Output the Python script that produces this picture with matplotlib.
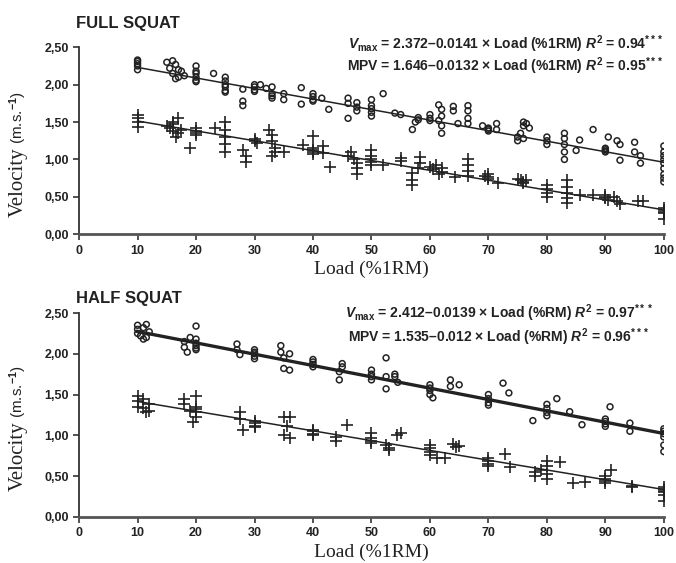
import matplotlib
matplotlib.use("Agg")
import matplotlib.pyplot as plt
from matplotlib.ticker import FuncFormatter

# --- FULL SQUAT: Vmax (circles) ---
full_vmax_load = [10, 10, 10, 10, 10,
                  15, 15.5, 16, 16, 16.5, 16.5, 17, 17, 17.5, 18,
                  20, 20, 20, 20, 20, 20, 23,
                  25, 25, 25, 25, 25, 25, 28, 28, 28,
                  30, 30, 30, 30, 31, 32, 33, 33, 33, 33, 35, 35,
                  38, 38, 40, 40, 40, 40, 41.5, 42.7,
                  46, 46, 46, 47.5, 47.5, 47.5, 50, 50, 50, 50, 50, 52, 54, 55,
                  57, 57.5, 58, 58, 60, 60, 60, 61.5, 62, 62, 62, 62, 61.5,
                  64, 64, 64.8, 66.5, 66.5, 66.5, 66.5, 69, 70, 70, 70, 71.4, 71.4,
                  75, 75, 75.5, 76, 76, 76.5, 76, 77, 80, 80, 80,
                  83, 83, 83, 83, 83, 85, 85.6, 87.9, 90, 90, 90, 90, 90.5,
                  92, 92.5, 92.5, 95, 95, 96, 96,
                  100, 100, 100, 100, 100, 100, 100, 100, 100]
full_vmax_vel = [2.20, 2.25, 2.28, 2.31, 2.33,
                 2.30, 2.22, 2.32, 2.15, 2.27, 2.08, 2.10, 2.20, 2.18, 2.12,
                 2.25, 2.15, 2.10, 2.06, 2.04, 2.18, 2.15,
                 2.10, 2.05, 2.00, 1.97, 1.92, 1.90, 1.78, 1.72, 1.94,
                 2.00, 1.97, 1.93, 1.91, 2.00, 1.95, 1.97, 1.88, 1.82, 1.85, 1.88, 1.80,
                 1.96, 1.74, 1.88, 1.84, 1.80, 1.78, 1.82, 1.67,
                 1.82, 1.75, 1.55, 1.76, 1.70, 1.65, 1.80, 1.72, 1.68, 1.63, 1.58, 1.88, 1.62, 1.60,
                 1.40, 1.50, 1.56, 1.53, 1.60, 1.55, 1.52, 1.73, 1.67, 1.58, 1.45, 1.35, 1.52,
                 1.71, 1.65, 1.48, 1.72, 1.65, 1.55, 1.48, 1.45, 1.42, 1.40, 1.38, 1.48, 1.40,
                 1.30, 1.25, 1.35, 1.45, 1.50, 1.48, 1.28, 1.42, 1.30, 1.25, 1.20,
                 1.35, 1.28, 1.20, 1.10, 1.00, 1.12, 1.26, 1.40, 1.15, 1.13, 1.11, 1.10, 1.30,
                 1.25, 1.20, 0.99, 1.23, 1.10, 0.95, 1.05,
                 1.18, 1.10, 1.05, 1.00, 0.95, 0.88, 0.80, 0.75, 0.70]

# --- FULL SQUAT: MPV (plus) ---
full_mpv_load = [10, 10, 10, 10,
                 15, 15.5, 16, 16, 16.5, 17, 17, 17.5, 16, 19,
                 20, 20, 20, 20, 23.3, 25, 25, 25, 25, 25,
                 28, 28.5, 28.5, 30, 30, 30.5,
                 32.5, 33, 33, 33.5, 33.5, 33, 35, 38.3,
                 40, 40, 40, 40, 40, 41.7, 41.7, 42.9,
                 46, 46.5, 47, 47.5, 47.5, 47.5, 50, 50, 50, 50, 50, 52, 55, 55,
                 57, 57, 57, 58.3, 58.3, 58, 60, 60.5, 61, 62, 62, 61.5, 64.3,
                 66.5, 66.5, 66.5, 66.5, 70, 70, 70, 69.5, 71.6,
                 75, 75.5, 76, 76, 76.5, 80, 80, 80, 80,
                 83.4, 83.4, 83.4, 83.4, 83.4, 85.6, 87.9,
                 90, 90, 90, 90.5, 91.5, 92, 92.5, 95.5, 96.5,
                 100, 100, 100, 100, 100]
full_mpv_vel = [1.60, 1.55, 1.50, 1.44,
                1.45, 1.42, 1.50, 1.38, 1.30, 1.55, 1.35, 1.40, 1.47, 1.15,
                1.42, 1.38, 1.35, 1.33, 1.42, 1.50, 1.40, 1.30, 1.20, 1.10,
                1.12, 1.05, 0.97, 1.28, 1.25, 1.22,
                1.40, 1.33, 1.25, 1.15, 1.10, 1.05, 1.10, 1.19,
                1.32, 1.15, 1.12, 1.10, 1.07, 1.18, 1.08, 0.90,
                1.05, 1.10, 1.00, 0.95, 0.88, 0.80, 1.12, 1.05, 1.00, 0.97, 0.92, 0.93, 0.98, 1.02,
                0.82, 0.73, 0.66, 1.03, 0.95, 0.88, 0.90, 0.87, 0.92, 0.88, 0.83, 0.80, 0.76,
                1.00, 0.92, 0.85, 0.78, 0.80, 0.76, 0.74, 0.78, 0.68,
                0.74, 0.72, 0.70, 0.68, 0.73, 0.66, 0.60, 0.55, 0.50,
                0.72, 0.63, 0.55, 0.48, 0.42, 0.52, 0.52,
                0.52, 0.50, 0.48, 0.46, 0.50, 0.44, 0.40, 0.45, 0.44,
                0.35, 0.32, 0.30, 0.28, 0.20]

# --- HALF SQUAT: Vmax (circles) ---
half_vmax_load = [10, 10, 10, 10.5, 11, 11.5, 11.5, 12, 11,
                  18, 18, 18.5, 19, 20, 20, 20, 20, 20, 20,
                  27, 27, 27.5, 30, 30, 30, 30, 30,
                  34.5, 34.5, 35, 35, 36, 36, 40, 40, 40, 40,
                  44.5, 44.5, 45, 45, 50, 50, 50, 50, 52.5, 52.5, 52.5, 54, 54, 54.5,
                  60, 60, 60, 60, 60.5, 63.5, 63.5, 65, 70, 70, 70, 70, 72.5, 73.5,
                  77.6, 80, 80, 80, 80, 81.7, 83.9, 86,
                  90, 90, 90, 90, 90.8, 94.2, 94.2,
                  100, 100, 100, 100, 100, 100]
half_vmax_vel = [2.35, 2.30, 2.25, 2.22, 2.32, 2.36, 2.20, 2.27, 2.18,
                 2.15, 2.08, 2.02, 2.20, 2.34, 2.18, 2.13, 2.10, 2.07, 2.05,
                 2.12, 2.05, 1.99, 2.05, 2.02, 2.00, 1.97, 1.94,
                 2.10, 2.02, 1.95, 1.82, 2.00, 1.80, 1.93, 1.90, 1.87, 1.84,
                 1.78, 1.68, 1.88, 1.84, 1.80, 1.75, 1.72, 1.68, 1.95, 1.72, 1.57, 1.75, 1.72, 1.65,
                 1.62, 1.58, 1.55, 1.50, 1.46, 1.68, 1.60, 1.62, 1.50, 1.45, 1.40, 1.37, 1.64, 1.52,
                 1.18, 1.38, 1.33, 1.28, 1.24, 1.45, 1.29, 1.13,
                 1.20, 1.17, 1.14, 1.11, 1.35, 1.15, 1.05,
                 1.08, 1.05, 1.02, 0.98, 0.88, 0.80]

# --- HALF SQUAT: MPV (plus) ---
half_mpv_load = [10, 10, 10, 11, 11, 11.5, 12, 12,
                 18, 18, 19, 20, 20, 20, 20, 20, 19.5,
                 27.5, 27.5, 28, 30, 30, 30, 30,
                 35, 36, 35, 36, 35.5, 40, 40, 40, 40,
                 44, 44, 45.8, 50, 50, 50, 50, 52.5, 53, 53, 54.3, 55,
                 60, 60, 60, 60, 61.2, 64, 64.5, 65, 62.5,
                 70, 70, 70, 70, 72.8, 73.7,
                 78, 78, 79, 80, 80, 80, 80, 82.2, 84.5, 86.5,
                 90, 90, 90, 91, 90, 94.5, 94.5,
                 100, 100, 100, 100, 100, 100]
half_mpv_vel = [1.48, 1.42, 1.35, 1.45, 1.33, 1.28, 1.38, 1.30,
                1.45, 1.38, 1.30, 1.48, 1.35, 1.32, 1.28, 1.22, 1.16,
                1.28, 1.20, 1.07, 1.18, 1.15, 1.12, 1.10,
                1.22, 1.22, 1.00, 0.97, 1.12, 1.07, 1.05, 1.02, 1.00,
                0.98, 0.93, 1.13, 1.03, 0.97, 0.93, 0.90, 0.88, 0.85, 0.82, 1.00, 1.03,
                0.88, 0.84, 0.80, 0.76, 0.72, 0.89, 0.86, 0.87, 0.72,
                0.72, 0.68, 0.65, 0.62, 0.77, 0.61,
                0.50, 0.55, 0.58, 0.68, 0.62, 0.52, 0.47, 0.67, 0.42, 0.43,
                0.50, 0.47, 0.44, 0.58, 0.41, 0.38, 0.36,
                0.36, 0.34, 0.32, 0.30, 0.27, 0.20]

# regression coefficients (intercept, slope) as printed on the chart
full_vmax_fit = (2.372, -0.0141)
full_mpv_fit = (1.646, -0.0132)
half_vmax_fit = (2.412, -0.0139)
half_mpv_fit = (1.535, -0.012)
fit_range = [10, 100]

INK = "#222222"

plt.rcParams["mathtext.fontset"] = "custom"
plt.rcParams["mathtext.rm"] = "Liberation Sans:bold"
plt.rcParams["mathtext.bf"] = "Liberation Sans:bold"
plt.rcParams["mathtext.it"] = "Liberation Sans:italic:bold"

fig = plt.figure(figsize=(6.76, 5.63), dpi=100)
ax_top = fig.add_axes([0.117, 0.584, 0.865, 0.332])
ax_bot = fig.add_axes([0.117, 0.082, 0.865, 0.362])


def draw_panel(ax, vmax_x, vmax_y, mpv_x, mpv_y, vmax_fit, mpv_fit, vmax_lw):
    ax.scatter(vmax_x, vmax_y, s=18, facecolors="none", edgecolors=INK, linewidths=1.1, zorder=3)
    ax.scatter(mpv_x, mpv_y, s=64, marker="+", color=INK, linewidths=1.2, zorder=3)
    ax.plot(fit_range, [vmax_fit[0] + vmax_fit[1] * x for x in fit_range], color=INK, lw=vmax_lw, zorder=4)
    ax.plot(fit_range, [mpv_fit[0] + mpv_fit[1] * x for x in fit_range], color=INK, lw=1.1, zorder=4)

    ax.set_xlim(0, 100)
    ax.set_ylim(0, 2.5)
    ax.set_xticks(range(0, 101, 10))
    ax.set_yticks([0, 0.5, 1.0, 1.5, 2.0, 2.5])
    ax.yaxis.set_major_formatter(FuncFormatter(lambda v, p: f"{v:.2f}".replace(".", ",")))
    for s in ["top", "right"]:
        ax.spines[s].set_visible(False)
    ax.spines["left"].set_color("#333333")
    ax.spines["left"].set_linewidth(1.3)
    ax.spines["bottom"].set_color("#555555")
    ax.spines["bottom"].set_linewidth(2.0)
    ax.tick_params(axis="both", direction="out", length=4, width=1.2, color="#333333",
                   labelsize=9, labelcolor=INK)
    for lab in ax.get_xticklabels() + ax.get_yticklabels():
        lab.set_fontweight("bold")
        lab.set_family("Liberation Sans")
    ax.set_xlabel("Load (%1RM)", family="Liberation Serif", fontsize=14, color=INK, labelpad=3)


draw_panel(ax_top, full_vmax_load, full_vmax_vel, full_mpv_load, full_mpv_vel,
           full_vmax_fit, full_mpv_fit, 1.1)
draw_panel(ax_bot, half_vmax_load, half_vmax_vel, half_mpv_load, half_mpv_vel,
           half_vmax_fit, half_mpv_fit, 2.4)

# y labels: serif "Velocity" + sans units
for ax in (ax_top, ax_bot):
    pos = ax.get_position()
    yc = (pos.y0 + pos.y1) / 2
    fig.text(0.027, yc - 0.012, "Velocity", rotation=90, family="Liberation Serif",
             fontsize=15, color=INK, ha="center", va="top")
    fig.text(0.027, yc - 0.005, "(m.s.$^{-1}$)", rotation=90, family="Liberation Sans",
             fontsize=11, color=INK, ha="center", va="bottom")

# titles
fig.text(0.112, 0.958, "FULL SQUAT", family="Liberation Sans", fontweight="bold", fontsize=12, color=INK,
         va="center")
fig.text(0.112, 0.469, "HALF SQUAT", family="Liberation Sans", fontweight="bold", fontsize=12, color=INK,
         va="center")

# equations
eq_kw = dict(family="Liberation Sans", fontweight="bold", fontsize=10, color=INK, ha="right", va="center")
fig.text(0.981, 0.921, r"$V_{\rm max}$ = 2.372–0.0141 × Load (%1RM) $R^{2}$ = 0.94$^{***}$", **eq_kw)
fig.text(0.981, 0.882, r"MPV = 1.646–0.0132 × Load (%1RM) $R^{2}$ = 0.95$^{***}$", **eq_kw)
fig.text(0.966, 0.443, r"$V_{\rm max}$ = 2.412–0.0139 × Load (%RM) $R^{2}$ = 0.97$^{***}$", **eq_kw)
fig.text(0.960, 0.401, r"MPV = 1.535–0.012 × Load (%RM) $R^{2}$ = 0.96$^{***}$", **eq_kw)

fig.savefig("out.png", dpi=100)
